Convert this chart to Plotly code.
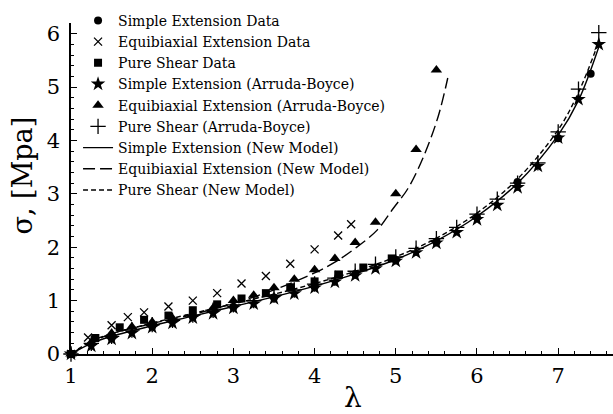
import plotly.graph_objects as go

# Stretch ratio lambda and stress sigma [MPa]
se_data_x = [1, 1.5, 2, 2.5, 3, 3.5, 4, 4.5, 5, 5.5, 6, 6.5, 7, 7.4]
se_data_y = [0, 0.3, 0.52, 0.7, 0.88, 1.06, 1.26, 1.5, 1.76, 2.1, 2.56, 3.22, 4.04, 5.25]

eb_data_x = [1, 1.21, 1.5, 1.7, 1.9, 2.2, 2.5, 2.8, 3.1, 3.4, 3.7, 4.0, 4.29, 4.45]
eb_data_y = [0, 0.31, 0.54, 0.69, 0.78, 0.89, 1.0, 1.14, 1.32, 1.46, 1.69, 1.96, 2.22, 2.43]

ps_data_x = [1, 1.3, 1.6, 1.9, 2.2, 2.5, 2.8, 3.1, 3.4, 3.7, 4.0, 4.3, 4.6, 4.95]
ps_data_y = [0, 0.3, 0.5, 0.64, 0.72, 0.82, 0.93, 1.04, 1.14, 1.25, 1.36, 1.49, 1.62, 1.79]

ab_x = [1, 1.25, 1.5, 1.75, 2, 2.25, 2.5, 2.75, 3, 3.25, 3.5, 3.75, 4, 4.25,
        4.5, 4.75, 5, 5.25, 5.5, 5.75, 6, 6.25, 6.5, 6.75, 7, 7.25, 7.5]
se_ab_y = [0, 0.15, 0.28, 0.39, 0.5, 0.58, 0.68, 0.76, 0.86, 0.94, 1.04, 1.13, 1.24, 1.35,
           1.47, 1.6, 1.74, 1.9, 2.08, 2.28, 2.52, 2.79, 3.12, 3.52, 4.05, 4.77, 5.8]
ps_ab_y = [0, 0.2, 0.33, 0.45, 0.55, 0.63, 0.73, 0.82, 0.92, 1.0, 1.1, 1.2, 1.31, 1.42,
           1.55, 1.68, 1.82, 1.98, 2.16, 2.37, 2.62, 2.9, 3.2, 3.58, 4.16, 4.96, 6.02]

eb_ab_x = [1, 1.25, 1.5, 1.75, 2, 2.25, 2.5, 2.75, 3, 3.25, 3.5, 3.75, 4, 4.25,
           4.5, 4.75, 5, 5.25, 5.5]
eb_ab_y = [0, 0.22, 0.39, 0.51, 0.6, 0.67, 0.74, 0.86, 1.0, 1.1, 1.24, 1.4, 1.58, 1.79,
           2.09, 2.47, 3.0, 3.83, 5.32]

se_model_x = [1, 1.25, 1.5, 2, 2.5, 3, 3.5, 4, 4.5, 5, 5.5, 6, 6.5, 7, 7.25, 7.5]
se_model_y = [0, 0.2, 0.33, 0.53, 0.71, 0.89, 1.07, 1.27, 1.5, 1.77, 2.12, 2.58, 3.2, 4.1, 4.75, 5.75]

eb_model_x = [1, 1.25, 1.5, 2, 2.5, 3, 3.5, 4, 4.25, 4.5, 4.77, 4.97, 5.15, 5.34, 5.52, 5.64]
eb_model_y = [0, 0.22, 0.38, 0.57, 0.74, 0.95, 1.2, 1.52, 1.72, 1.98, 2.32, 2.73, 3.1, 3.69, 4.44, 5.17]

ps_model_x = [1, 1.25, 1.5, 2, 2.5, 3, 3.5, 4, 4.5, 5, 5.5, 6, 6.5, 7, 7.25, 7.5]
ps_model_y = [0, 0.24, 0.38, 0.58, 0.76, 0.94, 1.12, 1.32, 1.55, 1.82, 2.17, 2.64, 3.28, 4.2, 4.9, 5.85]

x_ticks = [1, 2, 3, 4, 5, 6, 7]
y_ticks = [0, 1, 2, 3, 4, 5, 6]

SERIF = "DejaVu Serif, Liberation Serif, serif"
BLACK = "black"

fig = go.Figure()


def markers(x, y, name, symbol, size, thin=False):
    mk = dict(symbol=symbol, size=size, color=BLACK)
    if thin:
        mk["line"] = dict(color=BLACK, width=1.3)
    fig.add_trace(go.Scatter(x=x, y=y, mode="markers", name=name, marker=mk,
                             cliponaxis=False))


def curve(x, y, name, dash):
    fig.add_trace(go.Scatter(x=x, y=y, mode="lines", name=name,
                             line=dict(color=BLACK, width=1.4, dash=dash, shape="spline")))


markers(se_data_x, se_data_y, "Simple Extension Data", "circle", 8)
markers(eb_data_x, eb_data_y, "Equibiaxial Extension Data", "x-thin", 8, thin=True)
markers(ps_data_x, ps_data_y, "Pure Shear Data", "square", 8)
markers(ab_x, se_ab_y, "Simple Extension (Arruda-Boyce)", "star", 11)
markers(eb_ab_x, eb_ab_y, "Equibiaxial Extension (Arruda-Boyce)", "triangle-up", 10)
markers(ab_x, ps_ab_y, "Pure Shear (Arruda-Boyce)", "cross-thin", 11, thin=True)
curve(se_model_x, se_model_y, "Simple Extension (New Model)", "solid")
curve(eb_model_x, eb_model_y, "Equibiaxial Extension (New Model)", "12px,5px")
curve(ps_model_x, ps_model_y, "Pure Shear (New Model)", "5px,3px")

axis_common = dict(
    showline=True, linecolor=BLACK, linewidth=1.5, showgrid=False, zeroline=False,
    ticks="inside", ticklen=6, tickwidth=1, tickcolor=BLACK,
    tickfont=dict(family=SERIF, size=21, color=BLACK),
    minor=dict(ticks="inside", ticklen=3, tickwidth=1, tickcolor=BLACK, dtick=0.2),
)

fig.update_xaxes(range=[1, 7.675], tickvals=x_ticks, ticktext=[str(v) for v in x_ticks],
                 ticklabelstandoff=2, **axis_common)
fig.update_yaxes(range=[0, 6.2], tickvals=y_ticks, ticktext=[str(v) for v in y_ticks],
                 ticklabelstandoff=5, **axis_common)

fig.update_layout(
    width=613, height=414,
    margin=dict(l=71, r=0, t=23, b=60),
    paper_bgcolor="white", plot_bgcolor="white",
    font=dict(family=SERIF, color=BLACK),
    showlegend=True,
    legend=dict(x=0.013, y=1.055, xanchor="left", yanchor="top", maxheight=400,
                bgcolor="rgba(0,0,0,0)", font=dict(family=SERIF, size=14, color=BLACK),
                itemsizing="trace"),
    annotations=[
        dict(text="σ, [Mpa]", xref="paper", yref="paper", x=-0.09, y=0.54,
             xanchor="center", yanchor="middle", textangle=-90, showarrow=False,
             font=dict(family=SERIF, size=27, color=BLACK)),
        dict(text="λ", xref="paper", yref="paper", x=0.52, y=-0.13,
             xanchor="center", yanchor="middle", showarrow=False,
             font=dict(family=SERIF, size=28, color=BLACK)),
    ],
)

fig.write_html("out.html")
